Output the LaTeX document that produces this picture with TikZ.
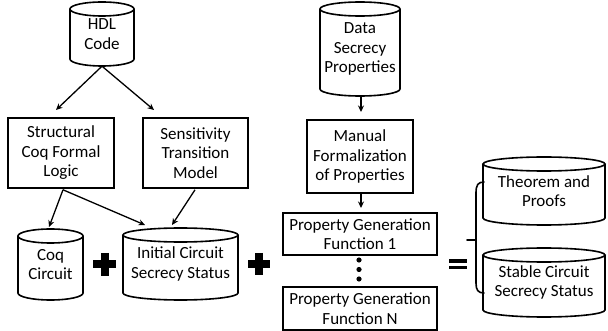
\documentclass[tikz,border=0pt]{standalone}
\usepackage{fontspec}
\setmainfont{Carlito}
\usetikzlibrary{arrows.meta,calc}

% Draws a storage cylinder: name, left, top, right, bottom, text
\newcommand\drum[6]{%
  \pgfmathsetmacro\drx{(#4-#2)/2}%
  \pgfmathsetmacro\dcx{(#4+#2)/2}%
  \pgfmathsetmacro\dcy{(#5+#3)/2}%
  \pgfmathsetmacro\dw{#4-#2}%
  \pgfmathsetmacro\dh{#5-#3}%
  \node[drumtext, minimum width=\dw pt, minimum height=\dh pt] (#1) at (\dcx,\dcy) {#6};
  \draw[outline] (#2,#3+7) -- (#2,#5-7)
     arc[start angle=180, end angle=360, x radius=\drx pt, y radius=7pt]
     -- (#4,#3+7);
  \draw[outline] (\dcx,#3+7) ellipse[x radius=\drx pt, y radius=7pt];
}

% Draws a rectangular step box: name, left, top, right, bottom, text
\newcommand\stepbox[6]{%
  \pgfmathsetmacro\dcx{(#4+#2)/2}%
  \pgfmathsetmacro\dcy{(#5+#3)/2}%
  \pgfmathsetmacro\dw{#4-#2}%
  \pgfmathsetmacro\dh{#5-#3}%
  \node[boxtext, minimum width=\dw pt, minimum height=\dh pt] (#1) at (\dcx,\dcy) {#6};
}

\tikzset{
  outline/.style={draw=black, line width=1.6pt},
  drumtext/.style={inner sep=0pt, align=center, font=\fontsize{17pt}{19.5pt}\selectfont},
  boxtext/.style={draw=black, line width=1.6pt, inner sep=0pt, align=center,
                  font=\fontsize{17pt}{19.5pt}\selectfont},
  flow/.style={draw=black, line width=1.3pt, -{Stealth[length=6.5pt,width=6pt]}},
  plusbar/.style={line width=8pt, black},
  eqbar/.style={line width=3.5pt, black},
  bracket/.style={line width=1.6pt, black, line cap=round},
}

\begin{document}
\begin{tikzpicture}[x=1pt, y=-1pt]
\useasboundingbox (0,0) rectangle (608,331);

% sources and intermediate stores
\drum{hdl}{70}{2}{134}{66}{HDL\\Code}
\drum{dsp}{320}{2}{400}{96}{Data\\Secrecy\\Properties}
\drum{coq}{18}{229}{83}{300}{Coq\\Circuit}
\drum{init}{123}{228}{238}{300}{Initial Circuit\\Secrecy Status}
\drum{thm}{483}{157}{605}{225}{Theorem and\\Proofs}
\drum{stable}{483}{248}{605}{317}{Stable Circuit\\Secrecy Status}

% processing steps
\stepbox{sl}{8}{118}{114}{188}{Structural\\Coq Formal\\Logic}
\stepbox{stm}{143}{118}{248}{188}{Sensitivity\\Transition\\Model}
\stepbox{mfp}{307}{120}{413}{193}{Manual\\Formalization\\of Properties}
\stepbox{pg1}{283}{213}{437}{255}{Property Generation\\Function 1}
\stepbox{pgn}{283}{287}{437}{330}{Property Generation\\Function N}

% arrow end points
\coordinate (h1) at (56,110);
\coordinate (h2) at (154,110);
\coordinate (s0) at ($(sl.south)+(2,1)$);
\coordinate (c1) at (49,227);
\coordinate (i1) at (145,225);
\coordinate (t0) at ($(stm.south)+(-0.5,1)$);
\coordinate (i2) at (172,225);
\coordinate (d1) at (361,112);
\coordinate (m1) at (361,208);

\draw[flow] (hdl.south) -- (h1);
\draw[flow] (hdl.south) -- (h2);
\draw[flow] (s0) -- (c1);
\draw[flow] (s0) -- (i1);
\draw[flow] (t0) -- (i2);
\draw[flow] (dsp.south -| d1) -- (d1);
\draw[flow] (mfp.south -| m1) -- (m1);

% plus signs
\draw[plusbar] (93,264.5) -- (116,264.5);
\draw[plusbar] (104.5,253) -- (104.5,276);
\draw[plusbar] (248,264) -- (270,264);
\draw[plusbar] (259,253) -- (259,275);

% vertical ellipsis between the generation functions
\fill (359,260) circle[radius=2.6pt];
\fill (359,269.5) circle[radius=2.6pt];
\fill (359,279) circle[radius=2.6pt];

% equals sign
\draw[eqbar] (449,261) -- (467,261);
\draw[eqbar] (449,267.5) -- (467,267.5);

% brace grouping the results
\draw[bracket] (484,182) .. controls (478,182) and (476,185) .. (476,193)
   -- (476,283) .. controls (476,290) and (478,293) .. (484,293);
\draw[bracket] (467,240) -- (476,240);
\end{tikzpicture}
\end{document}
